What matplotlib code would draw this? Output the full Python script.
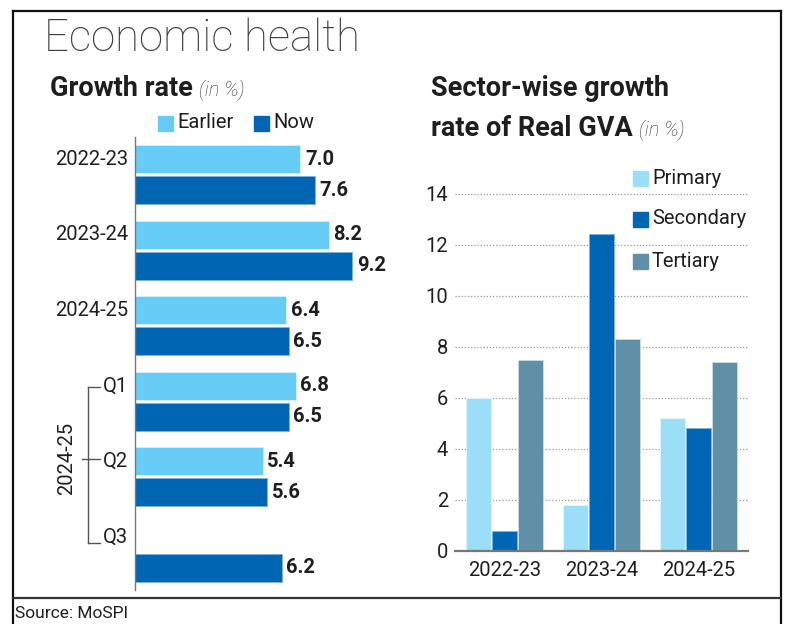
import numpy as np
import matplotlib.pyplot as plt
from matplotlib.lines import Line2D

# growth rate data (left chart)
periods = ['2022-23', '2023-24', '2024-25', 'Q1', 'Q2', 'Q3']
earlier = [7.0, 8.2, 6.4, 6.8, 5.4, np.nan]
now = [7.6, 9.2, 6.5, 6.5, 5.6, 6.2]

# sector-wise GVA growth (right chart)
years = ['2022-23', '2023-24', '2024-25']
primary = [6.0, 1.8, 5.2]
secondary = [0.8, 12.4, 4.8]
tertiary = [7.5, 8.3, 7.4]

C_EARLY = '#66CCF5'
C_NOW = '#0066B3'
C_PRI = '#9ADEF8'
C_SEC = '#0066B3'
C_TER = '#5F90A8'
TXT = '#1e1e1e'

plt.rcParams['font.family'] = ['Roboto', 'DejaVu Sans']

W, H = 789, 624
fig = plt.figure(figsize=(W / 100, H / 100), dpi=100)
renderer = fig.canvas.get_renderer()


def px(x, y):
    return x / W, 1 - y / H


def box(x0, y0, x1, y1):
    return [x0 / W, 1 - y1 / H, (x1 - x0) / W, (y1 - y0) / H]


def right_px(t):
    # right edge of a text, in pixels
    return t.get_window_extent(renderer).x1


# frame lines
fig.add_artist(Line2D([13 / W, 781 / W], [1 - 11 / H, 1 - 11 / H], color='#111111', lw=1.6))
fig.add_artist(Line2D([13 / W, 13 / W], [0, 1 - 11 / H], color='#111111', lw=1.6))
fig.add_artist(Line2D([781 / W, 781 / W], [0, 1 - 11 / H], color='#111111', lw=1.6))
fig.add_artist(Line2D([13 / W, 781 / W], [1 - 598 / H, 1 - 598 / H], color='#333333', lw=1.6))

# titles
fig.text(*px(44, 39), 'Economic health', weight='light',
         fontsize=31.5, color='#3c3c3c', va='center', ha='left')
t = fig.text(*px(50, 89), 'Growth rate', fontsize=19.5, weight='bold', color=TXT, va='center')
fig.text((right_px(t) + 6) / W, 1 - 90 / H, '(in %)', fontsize=14.5, style='italic',
         weight='light', color='#333333', va='center')
fig.text(*px(431, 89), 'Sector-wise growth', fontsize=19.5, weight='bold', color=TXT, va='center')
t = fig.text(*px(431, 129), 'rate of Real GVA', fontsize=19.5, weight='bold', color=TXT, va='center')
fig.text((right_px(t) + 6) / W, 1 - 130 / H, '(in %)', fontsize=14.5, style='italic',
         weight='light', color='#333333', va='center')
fig.text(*px(15, 613), 'Source: MoSPI', fontsize=12.5, color=TXT, va='center')

# ---- left chart: horizontal bars ----
ax1 = fig.add_axes(box(135, 137, 395, 590))
y = np.arange(len(periods))
off = 0.205
hgt = 0.37
ax1.barh(y - off, earlier, height=hgt, color=C_EARLY, edgecolor='#d8f2fc', lw=0.6)
ax1.barh(y + off, now, height=hgt, color=C_NOW, edgecolor='#7fb3d9', lw=0.6)
for i in range(len(periods)):
    if not np.isnan(earlier[i]):
        ax1.text(earlier[i] + 0.2, y[i] - off, f'{earlier[i]:.1f}', fontsize=14.5, weight='bold',
                 color=TXT, va='center', ha='left')
    ax1.text(now[i] + 0.2, y[i] + off, f'{now[i]:.1f}', fontsize=14.5, weight='bold',
             color=TXT, va='center', ha='left')
    ax1.text(-0.3, y[i] - off, periods[i], fontsize=14.5, color=TXT, va='center', ha='right')
ax1.set_xlim(0, 11)
ax1.set_ylim(len(periods) - 0.5, -0.5)
for s in ['top', 'right', 'bottom']:
    ax1.spines[s].set_visible(False)
ax1.spines['left'].set_color('#777777')
ax1.spines['left'].set_linewidth(1)
ax1.set_xticks([])
ax1.set_yticks([])

# bracket for quarters
bx = 88
fig.add_artist(Line2D([bx / W, bx / W], [1 - 387 / H, 1 - 543 / H], color='#555555', lw=1))
for yy in (387, 543):
    fig.add_artist(Line2D([bx / W, 100 / W], [1 - yy / H, 1 - yy / H], color='#555555', lw=1))
fig.add_artist(Line2D([82 / W, 100 / W], [1 - 459 / H, 1 - 459 / H], color='#555555', lw=1))
fig.text(*px(67, 458), '2024-25', fontsize=14.5, color=TXT, rotation=90, va='center', ha='center')

# left legend
fig.patches.append(plt.Rectangle(px(158, 131), 15 / W, 15 / H, color=C_EARLY, transform=fig.transFigure))
fig.text(*px(177, 123), 'Earlier', fontsize=14.5, color=TXT, va='center')
fig.patches.append(plt.Rectangle(px(254, 131), 15 / W, 15 / H, color=C_NOW, transform=fig.transFigure))
fig.text(*px(273, 123), 'Now', fontsize=14.5, color=TXT, va='center')

# ---- right chart: grouped columns ----
ax2 = fig.add_axes(box(455, 186, 748, 551))
x = np.arange(len(years))
sp = 0.268
bw = 0.25
ax2.bar(x - sp, primary, width=bw, color=C_PRI, edgecolor='#e6f7fd', lw=0.6, zorder=3)
ax2.bar(x, secondary, width=bw, color=C_SEC, edgecolor='#7fb3d9', lw=0.6, zorder=3)
ax2.bar(x + sp, tertiary, width=bw, color=C_TER, edgecolor='#cfdde5', lw=0.6, zorder=3)
ax2.set_xlim(-0.51, 2.51)
ax2.set_ylim(0, 14.3)
ax2.set_yticks(range(0, 15, 2))
ax2.set_xticks(x)
ax2.set_xticklabels(years)
ax2.tick_params(axis='y', length=0, labelsize=14.5, labelcolor=TXT, pad=5)
ax2.tick_params(axis='x', length=0, labelsize=14.5, labelcolor=TXT, pad=7)
ax2.grid(axis='y', color='#999999', lw=0.9, linestyle=(0, (1, 1.5)), zorder=0)
for s in ['top', 'right', 'left']:
    ax2.spines[s].set_visible(False)
ax2.spines['bottom'].set_color('#777777')
ax2.spines['bottom'].set_linewidth(1.6)
ax2.spines['bottom'].set_zorder(4)

# right legend
for label, col, yy in [('Primary', C_PRI, 178), ('Secondary', C_SEC, 219), ('Tertiary', C_TER, 261)]:
    fig.patches.append(plt.Rectangle(px(633, yy + 8), 15 / W, 15 / H, color=col,
                                     transform=fig.transFigure, zorder=5))
    fig.text(*px(652, yy), label, fontsize=14.5, color=TXT, va='center', zorder=5)

fig.savefig('out.png', dpi=100)
